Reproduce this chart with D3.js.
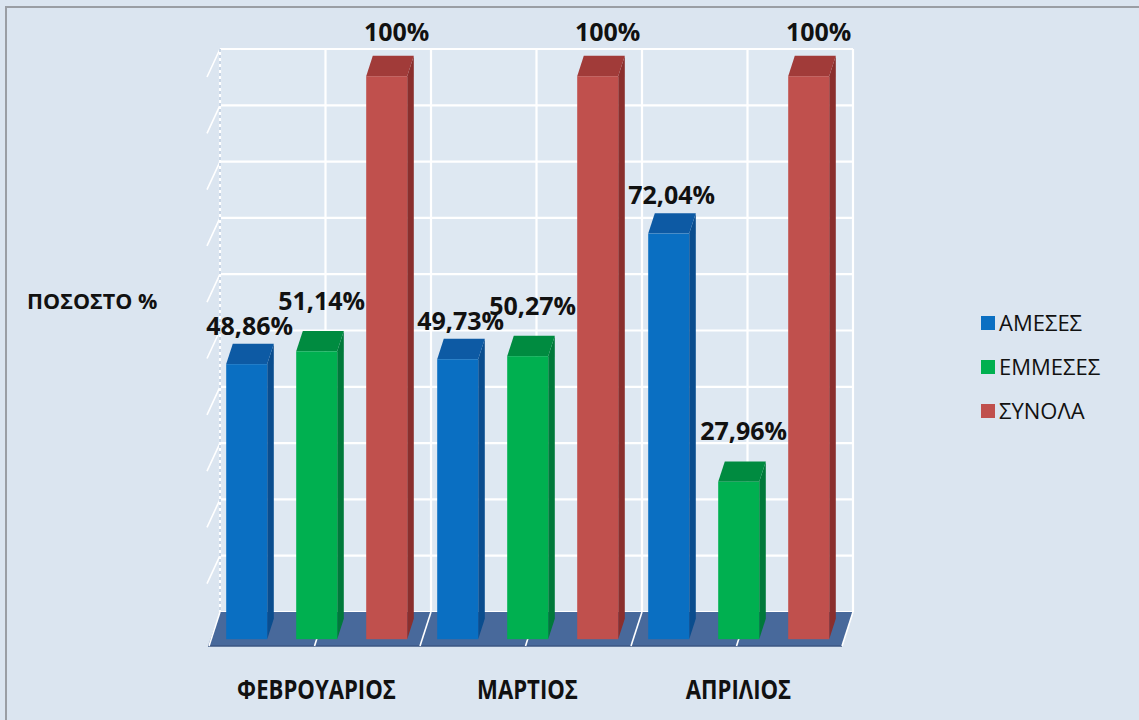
<!DOCTYPE html>
<html><head><meta charset="utf-8">
<script src="https://cdn.jsdelivr.net/npm/d3@7"></script>
<style>html,body{margin:0;padding:0;background:#dbe5f0;}svg{display:block;}</style>
</head><body>
<script>
const categories = ["ΦΕΒΡΟΥΑΡΙΟΣ", "ΜΑΡΤΙΟΣ", "ΑΠΡΙΛΙΟΣ"];
const seriesNames = ["ΑΜΕΣΕΣ", "ΕΜΜΕΣΕΣ", "ΣΥΝΟΛΑ"];
const amesesValues = [48.86, 49.73, 72.04];
const emmesesValues = [51.14, 50.27, 27.96];
const synolaValues = [100, 100, 100];
const valueLabels = [["48,86%", "49,73%", "72,04%"], ["51,14%", "50,27%", "27,96%"], ["100%", "100%", "100%"]];
const yTicks = [0, 10, 20, 30, 40, 50, 60, 70, 80, 90, 100];
const axisTitle = "ΠΟΣΟΣΤΟ %";

const W = 1139, H = 720;
const seriesValues = [amesesValues, emmesesValues, synolaValues];
const colors = [
  {front: "#0a6fc2", side: "#0a4d8e", top: "#0d5aa4"},
  {front: "#00b050", side: "#00793a", top: "#008b40"},
  {front: "#c0504d", side: "#8a2f2d", top: "#a13b39"}
];
const labelGap = [9, 21, 15];
const labelNudge = [3, 5, 10];

const svg = d3.select("body").append("svg").attr("width", W).attr("height", H);
svg.append("rect").attr("width", W).attr("height", H).attr("fill", "#dbe5f0");
svg.append("path").attr("d", `M6,${H} L6,7 L${W},7`).attr("fill", "none").attr("stroke", "#9a9ea4").attr("stroke-width", 2);

const xb0 = 220, xb1 = 853;
const DX = 11, DY = 34;
const y = d3.scaleLinear().domain([0, 100]).range([612, 49]);
const xCat = d3.scaleBand().domain(categories).range([xb0, xb1]).padding(0);
const xSer = d3.scaleBand().domain(seriesNames).range([15, 196]).paddingInner(29 / 70).paddingOuter(0);

svg.append("rect").attr("x", xb0).attr("y", y(100)).attr("width", xb1 - xb0).attr("height", y(0) - y(100)).attr("fill", "#dee8f2");
svg.append("g").selectAll("line").data(yTicks).join("line")
  .attr("x1", xb0).attr("x2", xb1).attr("y1", d => y(d)).attr("y2", d => y(d))
  .attr("stroke", "#ffffff").attr("stroke-width", 2.2);
svg.append("g").selectAll("line").data(yTicks.slice(1)).join("line")
  .attr("x1", xb0).attr("y1", d => y(d)).attr("x2", xb0 - DX - 2).attr("y2", d => y(d) + DY - 6)
  .attr("stroke", "#ffffff").attr("stroke-width", 1.6);
const vLines = d3.range(7).map(i => xb0 + i * (xb1 - xb0) / 6);
svg.append("g").selectAll("line").data(vLines).join("line")
  .attr("x1", d => d).attr("x2", d => d).attr("y1", y(100)).attr("y2", y(0))
  .attr("stroke", "#ffffff").attr("stroke-width", 2.2);
svg.append("line").attr("x1", xb0).attr("x2", xb0).attr("y1", y(100)).attr("y2", y(0))
  .attr("stroke", "#c9d6e6").attr("stroke-width", 2).attr("stroke-dasharray", "3,3");

svg.append("polygon")
  .attr("points", [[xb0, y(0)], [xb1, y(0)], [xb1 - DX, y(0) + DY], [xb0 - DX - 1, y(0) + DY]].map(p => p.join(",")).join(" "))
  .attr("fill", "#48699b");
svg.append("line").attr("x1", xb0 - DX - 1).attr("x2", xb1 - DX).attr("y1", y(0) + DY).attr("y2", y(0) + DY)
  .attr("stroke", "#3b5683").attr("stroke-width", 1.5);
svg.append("g").selectAll("line").data(vLines).join("line")
  .attr("x1", d => d).attr("y1", y(0)).attr("x2", d => d - DX).attr("y2", y(0) + DY)
  .attr("stroke", "#ffffff").attr("stroke-width", 1.6);

const bw = xSer.bandwidth();
const fT = 0.2, bT = 0.8;
const bars = [];
categories.forEach((c, ci) => {
  seriesNames.forEach((s, si) => {
    const v = seriesValues[si][ci];
    const xf = xCat(c) + xSer(s) - DX * (1 - fT);
    const yBase = y(0) + DY * (1 - fT);
    const yTopF = y(v) + DY * (1 - fT);
    bars.push({c, s, si, ci, v, xf, yBase, yTopF});
  });
});
const ddx = DX * (bT - fT), ddy = DY * (bT - fT);
const g = svg.append("g");
bars.forEach(b => {
  const col = colors[b.si];
  g.append("polygon").attr("fill", col.side)
    .attr("points", [[b.xf + bw, b.yTopF], [b.xf + bw + ddx, b.yTopF - ddy], [b.xf + bw + ddx, b.yBase - ddy], [b.xf + bw, b.yBase]].map(p => p.join(",")).join(" "));
  g.append("polygon").attr("fill", col.top)
    .attr("points", [[b.xf, b.yTopF], [b.xf + ddx, b.yTopF - ddy], [b.xf + bw + ddx, b.yTopF - ddy], [b.xf + bw, b.yTopF]].map(p => p.join(",")).join(" "));
  g.append("rect").attr("fill", col.front).attr("x", b.xf).attr("y", b.yTopF).attr("width", bw).attr("height", b.yBase - b.yTopF);
});

svg.append("g").selectAll("text").data(bars).join("text")
  .attr("x", b => b.xf + bw / 2 + labelNudge[b.si])
  .attr("y", b => b.yTopF - ddy - labelGap[b.si])
  .attr("text-anchor", "middle")
  .attr("font-family", "'Open Sans', sans-serif").attr("font-weight", "bold").attr("font-size", 25)
  .attr("fill", "#111")
  .text(b => valueLabels[b.si][b.ci]);

svg.append("g").selectAll("text").data(categories).join("text")
  .attr("transform", c => `translate(${xCat(c) + xCat.bandwidth() / 2 - DX + 2},699) scale(0.82,1)`)
  .attr("text-anchor", "middle")
  .attr("font-family", "'Open Sans', sans-serif").attr("font-weight", "bold").attr("font-size", 27)
  .attr("fill", "#111")
  .text(c => c);

svg.append("text").attr("x", 27).attr("y", 309)
  .attr("font-family", "'Open Sans', sans-serif").attr("font-weight", "bold").attr("font-size", 21.5)
  .attr("fill", "#111").text(axisTitle);

const leg = svg.append("g");
seriesNames.forEach((s, i) => {
  const cy = 323 + i * 44;
  leg.append("rect").attr("x", 981).attr("y", cy - 7).attr("width", 14).attr("height", 14).attr("fill", colors[i].front);
  leg.append("text").attr("x", 999).attr("y", cy + 8)
    .attr("font-family", "'Open Sans', sans-serif").attr("font-size", 22).attr("fill", "#111").text(s);
});
</script>
</body></html>
